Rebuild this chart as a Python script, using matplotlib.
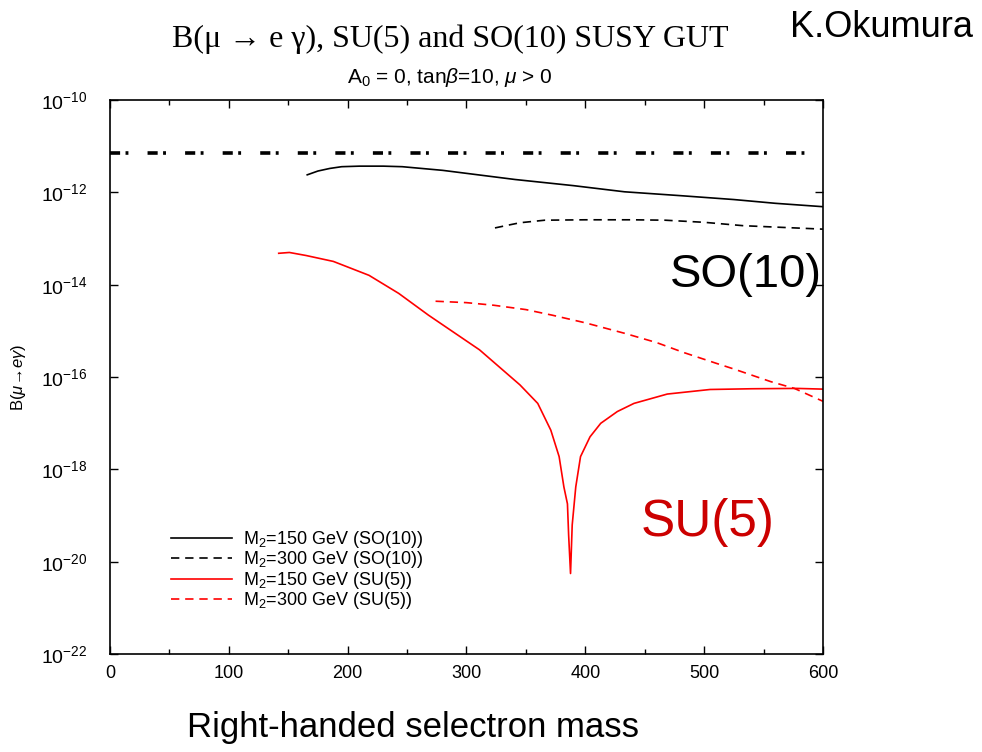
import matplotlib
matplotlib.use("Agg")
import matplotlib.pyplot as plt
import numpy as np

plt.rcParams["font.family"] = ["Liberation Sans", "DejaVu Sans"]
plt.rcParams["mathtext.fontset"] = "custom"
plt.rcParams["mathtext.rm"] = "Liberation Sans"
plt.rcParams["mathtext.it"] = "Liberation Sans:italic"

# experimental bound (dash-dot line)
bound_mass = [0, 600]
bound_val = [7.2e-12, 7.2e-12]

# SO(10), M2 = 150 GeV
so10_150_mass = [166, 175, 185, 195, 210, 230, 246, 280, 341, 390, 433, 480, 525, 560, 600]
so10_150_val = [2.4e-12, 2.9e-12, 3.3e-12, 3.6e-12, 3.7e-12, 3.7e-12, 3.6e-12, 3.0e-12,
                1.9e-12, 1.4e-12, 1.03e-12, 8.5e-13, 7.0e-13, 5.8e-13, 4.9e-13]

# SO(10), M2 = 300 GeV
so10_300_mass = [324, 335, 345, 366, 400, 440, 467, 500, 533, 565, 600]
so10_300_val = [1.7e-13, 1.95e-13, 2.2e-13, 2.5e-13, 2.55e-13, 2.55e-13, 2.5e-13,
                2.25e-13, 1.9e-13, 1.75e-13, 1.6e-13]

# SU(5), M2 = 150 GeV
su5_150_mass = [142, 151, 165, 188, 218, 243, 268, 311, 345, 360, 371, 378, 382, 385,
                386, 387.6, 389, 392, 396, 404, 413, 427, 441, 469, 505, 540, 578, 600]
su5_150_val = [4.8e-14, 5.0e-14, 4.3e-14, 3.2e-14, 1.6e-14, 6.5e-15, 2.2e-15, 3.9e-16,
               6.8e-17, 2.7e-17, 7.1e-18, 1.9e-18, 4.2e-19, 1.8e-19, 3.8e-20, 5.6e-21,
               6.3e-20, 4.2e-19, 1.9e-18, 5.1e-18, 1.0e-17, 1.8e-17, 2.7e-17, 4.3e-17,
               5.4e-17, 5.6e-17, 5.7e-17, 5.5e-17]

# SU(5), M2 = 300 GeV
su5_300_mass = [274, 300, 323, 350, 372, 400, 433, 460, 483, 510, 525, 556, 576, 600]
su5_300_val = [4.4e-15, 4.1e-15, 3.6e-15, 2.9e-15, 2.2e-15, 1.5e-15, 8.9e-16, 5.6e-16,
               3.4e-16, 2.0e-16, 1.5e-16, 8.0e-17, 5.7e-17, 3.0e-17]

x_ticks = [0, 100, 200, 300, 400, 500, 600]
y_ticks = [1e-22, 1e-20, 1e-18, 1e-16, 1e-14, 1e-12, 1e-10]

fig = plt.figure(figsize=(9.82, 7.52), dpi=100)
ax = fig.add_axes([0.112, 0.130, 0.726, 0.737])

ax.plot(bound_mass, bound_val, color="black", lw=2.6,
        linestyle=(0, (2.8, 1.5, 0.8, 5.3)))
ax.plot(so10_150_mass, so10_150_val, color="black", lw=1.2, label=r"M$_2$=150 GeV (SO(10))")
ax.plot(so10_300_mass, so10_300_val, color="black", lw=1.2, linestyle=(0, (5, 3.5)),
        label=r"M$_2$=300 GeV (SO(10))")
ax.plot(su5_150_mass, su5_150_val, color="red", lw=1.2, label=r"M$_2$=150 GeV (SU(5))")
ax.plot(su5_300_mass, su5_300_val, color="red", lw=1.2, linestyle=(0, (5, 3.5)),
        label=r"M$_2$=300 GeV (SU(5))")

ax.set_yscale("log")
ax.set_xlim(0, 600)
ax.set_ylim(1e-22, 1e-10)
ax.set_xticks(x_ticks)
ax.set_xticks(np.arange(50, 600, 100), minor=True)
ax.set_yticks(y_ticks)
ax.yaxis.set_minor_locator(matplotlib.ticker.NullLocator())
ax.tick_params(which="both", direction="in", top=True, right=True)
ax.tick_params(axis="x", labelsize=13, pad=8)
ax.tick_params(axis="y", labelsize=14, pad=16)
ax.tick_params(which="major", length=6, width=1)
ax.tick_params(which="minor", length=3.5, width=1)
for s in ax.spines.values():
    s.set_linewidth(1.2)

ax.set_ylabel(r"B($\mu\!\rightarrow\!e\gamma$)", fontsize=12)
ax.yaxis.set_label_coords(-0.115, 0.5)

ax.legend(loc="lower left", bbox_to_anchor=(0.073, 0.061), frameon=False, fontsize=13,
          handlelength=3.4, handletextpad=0.6, labelspacing=-0.03, borderpad=0)

ax.text(471, 1.6e-14, "SO(10)", fontsize=34, color="black", ha="left", va="center")
ax.text(447, 7e-20, "SU(5)", fontsize=37, color="#cc0000", ha="left", va="center")

fig.text(0.458, 0.948, "B(μ → e γ), SU(5) and SO(10) SUSY GUT",
         fontsize=23, ha="center", va="center", family=["Liberation Serif", "DejaVu Serif"])
fig.text(0.458, 0.897, r"A$_0$ = 0, tan$\beta$=10, $\mu$ > 0", fontsize=15,
         ha="center", va="center")
fig.text(0.898, 0.964, "K.Okumura", fontsize=26, ha="center", va="center")
fig.text(0.421, 0.032, "Right-handed selectron mass", fontsize=25, ha="center", va="center")

fig.savefig("out.png", dpi=100)
